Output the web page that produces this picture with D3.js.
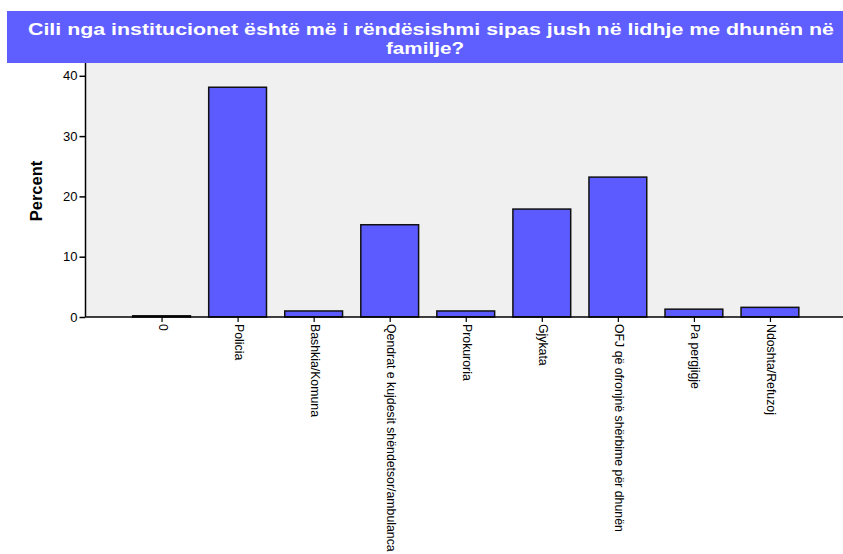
<!DOCTYPE html>
<html><head><meta charset="utf-8">
<script src="https://cdn.jsdelivr.net/npm/d3@7"></script>
<style>body{margin:0;background:#fff;} svg{display:block;}</style>
</head><body>
<svg id="c" width="843" height="554"></svg>
<script>
const titleLines = ["Cili nga institucionet është më i rëndësishmi sipas jush në lidhje me dhunën në", "familje?"];
const categories = ["0", "Policia", "Bashkia/Komuna", "Qendrat e kujdesit shëndetsor/ambulanca", "Prokuroria", "Gjykata", "OFJ që ofronjnë shërbime për dhunën", "Pa pergjigje", "Ndoshta/Refuzoj"];
const values = [0.2, 38.1, 1.0, 15.3, 1.0, 17.9, 23.2, 1.3, 1.6];
const yTicks = [0, 10, 20, 30, 40];
const yLabel = "Percent";

const svg = d3.select("#c");
const W = 843;
const plot = {left: 85.5, right: 846, top: 63, bottom: 317};
const FONT = "Liberation Sans, Arial, sans-serif";

// title banner
svg.append("rect").attr("x", 7).attr("y", 11).attr("width", W - 7).attr("height", 52).attr("fill", "#5f5fff");
const title = svg.append("text")
  .attr("font-family", FONT).attr("font-weight", "bold")
  .attr("font-size", 16.5).attr("fill", "#fff").attr("text-anchor", "middle");
title.append("tspan").attr("x", 431).attr("y", 35).text(titleLines[0])
  .attr("textLength", 806).attr("lengthAdjust", "spacingAndGlyphs");
title.append("tspan").attr("x", 425).attr("y", 54).text(titleLines[1])
  .attr("textLength", 78).attr("lengthAdjust", "spacingAndGlyphs");

// plot background
svg.append("rect").attr("x", plot.left).attr("y", plot.top)
  .attr("width", W - plot.left).attr("height", plot.bottom - plot.top).attr("fill", "#f0f0f0");

const x = d3.scaleLinear().domain([0, categories.length + 1]).range([plot.left, plot.right]);
const y = d3.scaleLinear().domain([0, 40]).range([plot.bottom, 75.8]);
const step = x(1) - x(0);
const bw = step * 0.76;

// bars
svg.append("g").selectAll("rect").data(values).join("rect")
  .attr("x", (d, i) => x(i + 1) - bw / 2)
  .attr("y", d => y(d))
  .attr("width", bw)
  .attr("height", d => y(0) - y(d))
  .attr("fill", "#5b5bff")
  .attr("stroke", "#111").attr("stroke-width", 1.5);

// y axis
const yAxis = d3.axisLeft(y).tickValues(yTicks).tickSize(6).tickPadding(2).tickFormat(d3.format("d"));
const gy = svg.append("g").attr("transform", `translate(${plot.left},0)`).call(yAxis);
gy.select(".domain").remove();
gy.selectAll(".tick line").attr("stroke", "#000").attr("stroke-width", 1.5);
gy.selectAll("text").attr("font-family", FONT).attr("font-size", 13).attr("fill", "#000");
svg.append("line").attr("x1", plot.left).attr("x2", plot.left).attr("y1", plot.top).attr("y2", plot.bottom)
  .attr("stroke", "#000").attr("stroke-width", 1.5);

// x axis
const xAxis = d3.axisBottom(x).tickValues(d3.range(1, categories.length + 1)).tickSize(5).tickPadding(3)
  .tickFormat(d => categories[d - 1]);
const gx = svg.append("g").attr("transform", `translate(0,${plot.bottom})`).call(xAxis);
gx.select(".domain").remove();
gx.selectAll(".tick line").attr("stroke", "#000").attr("stroke-width", 1.2);
gx.selectAll("text")
  .attr("font-family", FONT).attr("font-size", 12.3).attr("fill", "#000")
  .attr("text-anchor", "start").attr("dy", null)
  .attr("transform", "translate(0,7) rotate(90)")
  .attr("x", 0).attr("y", 0).attr("dominant-baseline", "middle");
svg.append("line").attr("x1", plot.left).attr("x2", W).attr("y1", plot.bottom).attr("y2", plot.bottom)
  .attr("stroke", "#000").attr("stroke-width", 1.5);

// y label
svg.append("text").attr("transform", `translate(42,${(plot.top + plot.bottom) / 2 + 1}) rotate(-90)`)
  .attr("text-anchor", "middle").attr("font-family", FONT)
  .attr("font-weight", "bold").attr("font-size", 16.5).attr("fill", "#000").text(yLabel);
</script>
</body></html>
